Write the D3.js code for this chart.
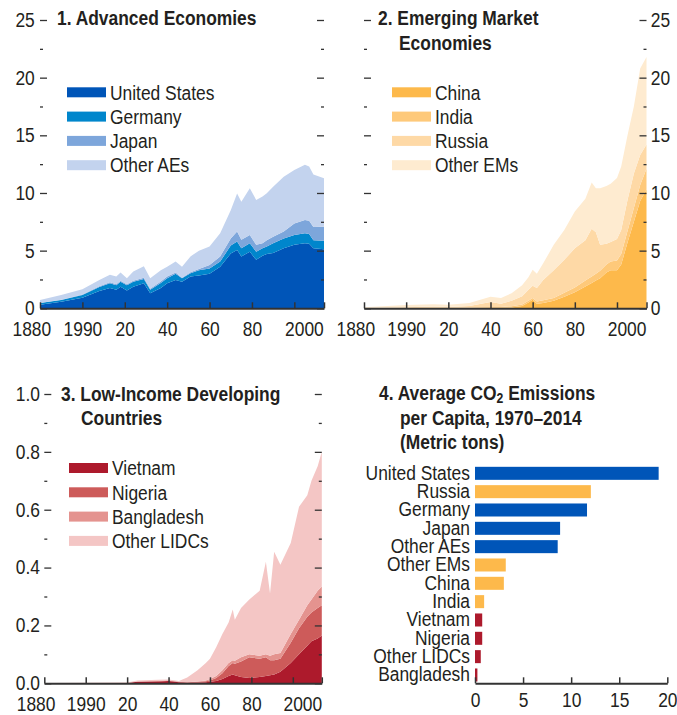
<!DOCTYPE html>
<html>
<head>
<meta charset="utf-8">
<script src="https://cdn.jsdelivr.net/npm/d3@7"></script>
<style>
  body { margin: 0; background: #fff; }
  svg text { font-family: "Liberation Sans", Arial, sans-serif; fill: #231f20; }
</style>
</head>
<body>
<svg id="chart" width="677" height="715"></svg>
<script>
// CO2 emissions — four panels, D3 v7

// === data: panel 1, advanced economies (per-series values, stacked) ===
const aeYears  = [1880,1890,1900,1908,1913,1916,1918,1921,1924,1929,1932,1937,1940,1944,1947,1951,1955,1960,1965,1970,1973,1975,1979,1982,1985,1987,1990,1995,2000,2005,2007,2009,2014];
const aeUS     = [0.30,0.57,0.92,1.50,1.75,1.60,1.87,1.55,1.87,2.17,1.30,1.75,2.17,2.45,2.30,2.75,2.85,3.00,3.60,4.75,5.05,4.50,4.90,4.20,4.55,4.70,4.80,5.20,5.50,5.65,5.60,5.20,5.12];
const aeGer    = [0.15,0.15,0.23,0.35,0.42,0.40,0.43,0.45,0.43,0.38,0.30,0.45,0.43,0.55,0.30,0.30,0.45,0.45,0.45,0.70,0.75,0.70,0.75,0.70,0.65,0.65,0.85,0.85,0.85,0.85,0.85,0.70,0.74];
const aeJpn    = [0.02,0.03,0.05,0.07,0.08,0.08,0.08,0.08,0.08,0.10,0.10,0.12,0.15,0.10,0.05,0.07,0.10,0.30,0.45,0.60,0.85,0.75,0.70,0.60,0.45,0.55,0.55,0.60,1.00,1.15,1.15,1.15,1.22];
const aeOther  = [0.25,0.40,0.45,0.53,0.65,0.67,0.72,0.52,0.82,1.00,0.90,0.98,0.85,0.95,0.95,1.38,1.60,1.60,2.00,2.45,3.30,3.30,4.05,3.90,4.05,4.07,4.35,4.75,4.65,4.80,4.70,4.55,4.19];

// === panel 2, emerging market economies ===
const emYears  = [1880,1900,1913,1920,1930,1940,1945,1950,1955,1958,1960,1962,1965,1970,1975,1980,1985,1988,1990,1992,1995,1997,2000,2002,2005,2008,2011,2014];
const emChina  = [0.00,0.01,0.02,0.02,0.03,0.05,0.05,0.08,0.20,0.50,0.75,0.40,0.45,0.65,1.00,1.40,1.90,2.20,2.40,2.60,3.10,3.30,3.30,3.80,5.70,7.50,9.30,10.30];
const emIndia  = [0.01,0.02,0.03,0.03,0.05,0.07,0.07,0.10,0.12,0.15,0.15,0.20,0.25,0.25,0.35,0.40,0.50,0.55,0.60,0.65,0.70,0.75,0.85,0.90,1.00,1.20,1.40,1.80];
const emRussia = [0.04,0.07,0.10,0.07,0.12,0.43,0.28,0.47,0.73,0.95,1.05,1.15,1.75,2.40,2.85,3.40,3.50,4.15,3.60,2.25,1.80,1.70,1.85,2.10,2.70,3.00,2.60,2.10];
const emOther  = [0.05,0.18,0.20,0.18,0.25,0.45,0.50,0.65,0.95,1.10,1.40,1.25,1.45,2.20,2.60,3.20,3.60,4.00,3.80,4.90,5.00,5.05,5.30,5.50,5.60,5.80,7.50,7.60];

// === panel 3, low-income developing countries ===
const ldYears  = [1880,1920,1925,1935,1940,1945,1949,1954,1958,1960,1963,1966,1969,1971,1972,1975,1979,1984,1987,1989,1991,1994,1999,2003,2007,2009,2012,2014];
const ldViet   = [0,0.001,0.005,0.006,0.008,0.004,0.002,0.003,0.004,0.005,0.008,0.015,0.025,0.030,0.028,0.022,0.018,0.022,0.025,0.028,0.030,0.040,0.070,0.100,0.130,0.145,0.155,0.165];
const ldNiger  = [0,0,0.001,0.002,0.002,0.001,0.002,0.002,0.003,0.005,0.010,0.020,0.035,0.040,0.040,0.053,0.072,0.063,0.065,0.052,0.050,0.045,0.070,0.090,0.100,0.100,0.105,0.105];
const ldBangla = [0,0,0,0,0,0,0,0.001,0.003,0.005,0.007,0.010,0.010,0.010,0.010,0.015,0.010,0.010,0.010,0.015,0.020,0.020,0.030,0.030,0.040,0.045,0.060,0.065];
const ldOther  = [0.001,0.002,0.004,0.004,0.003,0.003,0.016,0.039,0.060,0.070,0.100,0.125,0.140,0.175,0.142,0.170,0.190,0.225,0.320,0.215,0.355,0.305,0.315,0.390,0.380,0.410,0.430,0.465];

// === panel 4, average per capita 1970–2014 ===
const barCats  = ["United States","Russia","Germany","Japan","Other AEs","Other EMs","China","India","Vietnam","Nigeria","Other LIDCs","Bangladesh"];
const barVals  = [19.1,12.05,11.65,8.85,8.6,3.2,3.0,0.95,0.75,0.75,0.6,0.25];
const barGroup = ["AE","EM","AE","AE","AE","EM","EM","EM","LIDC","LIDC","LIDC","LIDC"];

// x tick labels as printed
const yearTicks  = [1880,1900,1920,1940,1960,1980,2000];
const yearLabels = ["1880","1990","20","40","60","80","2000"];

const svg = d3.select("#chart");
const FS = 20;
const NX = 0.87; // squeeze text horizontally to mimic a condensed face

// squeeze d3 axis labels in place
function narrowAxisText(g) {
  g.selectAll("text")
    .attr("font-size", FS).attr("font-family", null).attr("fill", "#231f20")
    .attr("transform", `scale(${NX},1)`);
}

// a text block of one or more lines, squeezed
function label(x, y, str, opts = {}) {
  const g = svg.append("g").attr("transform", `translate(${x},${y}) scale(${NX},1)`);
  return g.append("text")
    .attr("font-size", opts.size || FS)
    .attr("font-weight", opts.bold ? "bold" : null)
    .attr("dy", opts.dy || null)
    .text(str);
}

function stackPanel(cfg) {
  const rows = cfg.years.map((yr, i) => {
    const r = { year: yr };
    cfg.keys.forEach((k, j) => r[k] = cfg.values[j][i]);
    return r;
  });
  const series = d3.stack().keys(cfg.keys)(rows);

  const x = d3.scaleLinear().domain([1880, 2014]).range(cfg.xr);
  const y = d3.scaleLinear().domain(cfg.yd).range(cfg.yr);
  const color = d3.scaleOrdinal().domain(cfg.keys).range(cfg.colors);

  const area = d3.area()
    .x(d => x(d.data.year))
    .y0(d => y(d[0]))
    .y1(d => y(d[1]));

  svg.append("g").selectAll("path")
    .data(series)
    .join("path")
    .attr("fill", d => color(d.key))
    .attr("d", area);

  const [x0, x1] = cfg.xr;

  // y ticks, both sides pointing inward
  const tick = (gen, tx, vals, size) => svg.append("g")
    .attr("transform", `translate(${tx},0)`)
    .call(gen(y).tickValues(vals).tickSize(size).tickFormat(""))
    .call(g => g.select(".domain").remove())
    .call(g => g.selectAll("line").attr("stroke", "#333").attr("stroke-width", 1.3));
  tick(d3.axisRight, x0, cfg.major, 7);
  tick(d3.axisRight, x0, cfg.minor, 3);
  tick(d3.axisLeft, x1, cfg.major, 7);
  tick(d3.axisLeft, x1, cfg.minor, 3);

  // y labels
  const labGen = cfg.labelSide === "left" ? d3.axisLeft : d3.axisRight;
  svg.append("g")
    .attr("transform", `translate(${cfg.labelSide === "left" ? x0 : x1},0)`)
    .call(labGen(y).tickValues(cfg.major).tickSize(0).tickPadding(cfg.labelPad).tickFormat(cfg.yFormat))
    .call(g => g.select(".domain").remove())
    .call(narrowAxisText);

  // x axis
  const base = cfg.yr[0];
  svg.append("g")
    .attr("transform", `translate(0,${base})`)
    .call(d3.axisTop(x).tickValues(yearTicks.concat([2014])).tickSize(6).tickSizeOuter(0).tickFormat(""))
    .call(g => g.select(".domain").attr("stroke", "#333").attr("stroke-width", 2))
    .call(g => g.selectAll("line").attr("stroke", "#333").attr("stroke-width", 1.5));
  svg.append("g")
    .attr("transform", `translate(0,${base})`)
    .call(d3.axisBottom(x).tickValues(yearTicks).tickSize(0).tickPadding(14)
      .tickFormat((d, i) => yearLabels[i]))
    .call(g => g.select(".domain").remove())
    .call(narrowAxisText)
    .call(g => g.selectAll("text")
      .attr("dx", (d, i) => i === 0 ? -10 : (i === yearTicks.length - 1 ? 11 : 0)));

  // title
  cfg.title.forEach(line => label(line[0], line[1], line[2], { bold: true }));

  // legend
  cfg.labels.forEach((name, i) => {
    const cy = cfg.legend[1] + i * 24.3;
    svg.append("rect")
      .attr("x", cfg.legend[0]).attr("y", cy - 5)
      .attr("width", 39).attr("height", 10)
      .attr("fill", cfg.colors[i]);
    label(cfg.legend[0] + 43, cy, name, { dy: "0.36em" });
  });
}

stackPanel({
  years: aeYears, keys: ["us", "ger", "jpn", "oth"],
  values: [aeUS, aeGer, aeJpn, aeOther],
  colors: ["#0055b8", "#0086cc", "#7da6db", "#c3d3ee"],
  labels: ["United States", "Germany", "Japan", "Other AEs"],
  xr: [40, 324], yd: [0, 25], yr: [308.3, 20],
  major: [0, 5, 10, 15, 20, 25], minor: [2.5, 7.5, 12.5, 17.5, 22.5],
  labelSide: "left", labelPad: 6, yFormat: d3.format("d"),
  title: [[57, 25, "1. Advanced Economies"]],
  legend: [67, 92.3]
});

stackPanel({
  years: emYears, keys: ["chn", "ind", "rus", "oth"],
  values: [emChina, emIndia, emRussia, emOther],
  colors: ["#fdb94b", "#fec97a", "#fed9a6", "#feebd0"],
  labels: ["China", "India", "Russia", "Other EMs"],
  xr: [364, 646.5], yd: [0, 25], yr: [308.3, 20],
  major: [0, 5, 10, 15, 20, 25], minor: [2.5, 7.5, 12.5, 17.5, 22.5],
  labelSide: "right", labelPad: 5, yFormat: d3.format("d"),
  title: [[378, 25, "2. Emerging Market"], [399, 50, "Economies"]],
  legend: [392, 92.3]
});

stackPanel({
  years: ldYears, keys: ["vnm", "nga", "bgd", "oth"],
  values: [ldViet, ldNiger, ldBangla, ldOther],
  colors: ["#ad1a2c", "#cd5b5a", "#e4938f", "#f4c6c5"],
  labels: ["Vietnam", "Nigeria", "Bangladesh", "Other LIDCs"],
  xr: [44.3, 321.8], yd: [0, 1], yr: [683.3, 394],
  major: [0, 0.2, 0.4, 0.6, 0.8, 1.0], minor: [0.1, 0.3, 0.5, 0.7, 0.9],
  labelSide: "left", labelPad: 5, yFormat: d3.format(".1f"),
  title: [[61, 401, "3. Low-Income Developing"], [81, 425, "Countries"]],
  legend: [69, 468]
});

// === panel 4: bars ===
const bx = d3.scaleLinear().domain([0, 20]).range([475, 667.3]);
const by = d3.scaleBand().domain(barCats).range([461.5, 686.8]).paddingInner(0.29).paddingOuter(0.29);
const groupColor = { AE: "#0055b8", EM: "#fdb94b", LIDC: "#ad1a2c" };

svg.append("g").selectAll("rect")
  .data(barCats)
  .join("rect")
  .attr("x", bx(0))
  .attr("y", d => by(d))
  .attr("height", by.bandwidth())
  .attr("width", (d, i) => bx(barVals[i]) - bx(0))
  .attr("fill", (d, i) => groupColor[barGroup[i]]);

svg.append("g")
  .attr("transform", `translate(${bx(0) - 5},0)`)
  .call(d3.axisLeft(by).tickSize(0).tickPadding(0))
  .call(g => g.select(".domain").remove())
  .call(narrowAxisText);

svg.append("g")
  .attr("transform", "translate(0,683.3)")
  .call(d3.axisTop(bx).tickValues([0, 5, 10, 15, 20]).tickSize(6).tickSizeOuter(0).tickFormat(""))
  .call(g => g.select(".domain").attr("stroke", "#333").attr("stroke-width", 2))
  .call(g => g.selectAll("line").attr("stroke", "#333").attr("stroke-width", 1.5));
svg.append("g")
  .attr("transform", "translate(0,683.3)")
  .call(d3.axisBottom(bx).tickValues([0, 5, 10, 15, 20]).tickSize(0).tickPadding(10))
  .call(g => g.select(".domain").remove())
  .call(narrowAxisText);

const t4 = label(379, 400, "4. Average CO", { bold: true });
t4.append("tspan").attr("font-size", 14).attr("dy", 3).text("2");
t4.append("tspan").attr("dy", -3).text(" Emissions");
label(400, 424.5, "per Capita, 1970–2014", { bold: true });
label(400, 449, "(Metric tons)", { bold: true });
</script>
</body>
</html>
